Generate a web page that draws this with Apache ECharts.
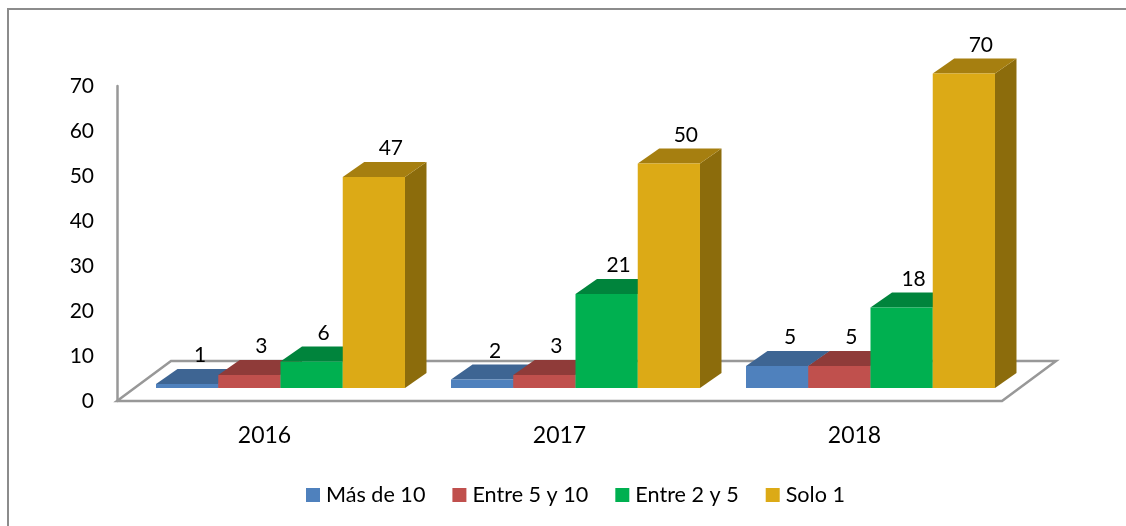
<!DOCTYPE html>
<html>
<head>
<meta charset="utf-8">
<style>html,body{margin:0;padding:0;background:#fff}#c{width:1126px;height:526px}</style>
<script src="https://cdn.jsdelivr.net/npm/echarts@6/dist/echarts.min.js"></script>
</head>
<body>
<div id="c"></div>
<script>
const years = ['2016', '2017', '2018'];
const seriesNames = ['Más de 10', 'Entre 5 y 10', 'Entre 2 y 5', 'Solo 1'];
const masDe10 = [1, 2, 5];
const entre5y10 = [3, 3, 5];
const entre2y5 = [6, 21, 18];
const solo1 = [47, 50, 70];
const yTicks = { min: 0, max: 70, interval: 10 };

const FONT = 'Lato, sans-serif';
const palette = [
  { front: '#4F81BD', top: '#3E6593', side: '#34557C' },
  { front: '#C0504D', top: '#8F3B39', side: '#7A3230' },
  { front: '#00B050', top: '#00843C', side: '#006E32' },
  { front: '#DCAA16', top: '#A67F10', side: '#8C6C0C' }
];
const labelNudge = [13, 12, 12, 17];
const FLOOR = { dx: 54, dy: 40 };
const BASE = { dx: 16, dy: 13 };
const DEPTH = { dx: 21.5, dy: 15 };
const BAR_RATIO = 0.211;

function barRenderer(si) {
  const c = palette[si];
  return function (params, api) {
    const cat = api.value(0), v = api.value(1);
    const top = api.coord([cat, v]);
    const bot = api.coord([cat, 0]);
    const band = api.size([1, 0])[0];
    const w = band * BAR_RATIO;
    const x0 = top[0] + BASE.dx + (si - 2) * w;
    const x1 = x0 + w;
    const yT = top[1] - BASE.dy + 0.5;
    const yB = bot[1] - BASE.dy;
    const d = DEPTH;
    return {
      type: 'group',
      children: [
        { type: 'polygon', shape: { points: [[x1, yT], [x1 + d.dx, yT - d.dy], [x1 + d.dx, yB - d.dy], [x1, yB]] }, style: { fill: c.side } },
        { type: 'polygon', shape: { points: [[x0, yT], [x0 + d.dx, yT - d.dy], [x1 + d.dx, yT - d.dy], [x1, yT]] }, style: { fill: c.top } },
        { type: 'rect', shape: { x: x0, y: yT, width: w, height: yB - yT }, style: { fill: c.front } },
        { type: 'text', z2: 10, style: { text: String(v), x: (x0 + x1) / 2 + labelNudge[si], y: yT - d.dy - 13.5, fill: '#000', font: '21px ' + FONT, textAlign: 'center', textVerticalAlign: 'middle' } }
      ]
    };
  };
}

function floorRenderer(params) {
  const g = params.coordSys;
  const xL = g.x, xR = g.x + g.width, yB = g.y + g.height;
  return {
    type: 'polygon',
    shape: { points: [[xL, yB], [xL + FLOOR.dx, yB - FLOOR.dy], [xR + FLOOR.dx, yB - FLOOR.dy], [xR, yB]] },
    style: { fill: 'none', stroke: '#989898', lineWidth: 2.5 }
  };
}

const values = [masDe10, entre5y10, entre2y5, solo1];
const series = [{
  type: 'custom', name: 'floor', renderItem: floorRenderer, data: [[0, 0]], silent: true, z: 1
}].concat(values.map((arr, si) => ({
  type: 'custom',
  name: seriesNames[si],
  itemStyle: { color: palette[si].front },
  renderItem: barRenderer(si),
  encode: { x: 0, y: 1 },
  data: arr.map((v, i) => [i, v]),
  z: 2 + si
})));

const chart = echarts.init(document.getElementById('c'), null, { renderer: 'canvas' });
chart.setOption({
  animation: false,
  backgroundColor: '#fff',
  grid: { left: 117, right: 124, top: 86, bottom: 125 },
  legend: {
    data: seriesNames.map((n, i) => ({ name: n, icon: 'rect', itemStyle: { color: palette[i].front } })),
    left: 306, top: 484, padding: 0, itemWidth: 14, itemHeight: 14, itemGap: 27,
    textStyle: { fontFamily: FONT, fontSize: 21.6, color: '#000', padding: [0, 0, 0, 1] },
    selectedMode: false
  },
  xAxis: {
    type: 'category', data: years,
    axisLine: { show: false }, axisTick: { show: false }, splitLine: { show: false },
    axisLabel: { color: '#000', fontFamily: FONT, fontSize: 23, margin: 23 }
  },
  yAxis: {
    type: 'value', min: yTicks.min, max: yTicks.max, interval: yTicks.interval,
    axisLine: { show: true, lineStyle: { color: '#989898', width: 2.5 } },
    axisTick: { show: false }, splitLine: { show: false },
    axisLabel: { color: '#000', fontFamily: FONT, fontSize: 21, margin: 23, padding: [2, 0, 0, 0] }
  },
  graphic: [{
    type: 'polyline', silent: true,
    shape: { points: [[8, 526], [8, 9], [1126, 9]] },
    style: { fill: 'none', stroke: '#8c8c8c', lineWidth: 2 }
  }],
  series
});
</script>
</body>
</html>
